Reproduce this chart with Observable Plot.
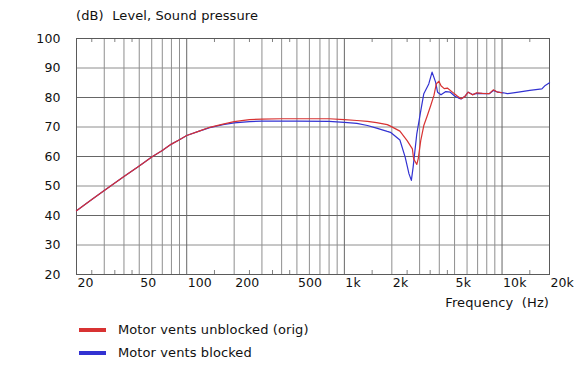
<!DOCTYPE html>
<html>
<head>
<meta charset="utf-8">
<script src="https://cdn.jsdelivr.net/npm/d3@7"></script>
<script src="https://cdn.jsdelivr.net/npm/@observablehq/plot@0.6"></script>
<style>
  html, body { margin: 0; padding: 0; background: #fff; }
  #wrap { position: relative; width: 578px; height: 390px; font-family: "DejaVu Sans", Verdana, sans-serif; font-size: 13px; letter-spacing: 0.1px; color: #111; }
  #wrap svg { position: absolute; left: 0; top: 0; }
  .lbl { position: absolute; white-space: pre; line-height: 15px; }
  .sw { position: absolute; width: 27px; height: 4px; }
</style>
</head>
<body>
<div id="wrap">
  <div class="lbl" style="left:76px; top:8px;">(dB)  Level, Sound pressure</div>
  <div class="lbl" style="right:29px; top:295px;">Frequency  (Hz)</div>
  <div class="sw" style="left:79px; top:328px; background:#d83232;"></div>
  <div class="lbl" style="left:118px; top:322px;">Motor vents unblocked (orig)</div>
  <div class="sw" style="left:79px; top:351px; background:#3232d2;"></div>
  <div class="lbl" style="left:118px; top:345px;">Motor vents blocked</div>
</div>
<script>
// Series: Motor vents unblocked (orig) — red
const freqRed = [20, 25, 30, 40, 50, 60, 70, 80, 90, 100, 120, 140, 170, 200, 250, 300, 400, 600, 800, 1000, 1200, 1400, 1600, 1870, 1960, 2250, 2500, 2700, 2750, 2880, 2940, 3050, 3190, 3360, 3530, 3700, 3830, 3980, 4100, 4300, 4500, 4800, 5200, 5500, 5800, 6100, 6500, 6900, 7500, 8300, 8800, 9400, 10000];
const dbRed   = [41.6, 45.4, 48.5, 53.2, 56.8, 59.8, 62.0, 64.2, 65.7, 67.1, 68.6, 69.9, 71.0, 71.8, 72.5, 72.7, 72.8, 72.8, 72.8, 72.5, 72.2, 71.9, 71.5, 70.8, 70.3, 68.6, 65.4, 62.6, 59.2, 57.3, 59.2, 65.4, 70.5, 73.9, 77.3, 80.7, 84.6, 85.5, 84.0, 83.0, 83.2, 82.0, 80.5, 79.6, 80.3, 81.8, 80.9, 81.6, 81.4, 81.3, 82.6, 81.8, 81.6];

// Series: Motor vents blocked — blue
const freqBlue = [20, 25, 30, 40, 50, 60, 70, 80, 90, 100, 120, 140, 170, 200, 250, 300, 500, 800, 1000, 1200, 1400, 1600, 1870, 1960, 2250, 2430, 2570, 2660, 2730, 2880, 3030, 3190, 3430, 3600, 3790, 3900, 4100, 4400, 4700, 5000, 5300, 5500, 5800, 6100, 6500, 6900, 8300, 8800, 9400, 10200, 10800, 12700, 15000, 17900, 18800, 20000];
const dbBlue   = [41.6, 45.4, 48.5, 53.2, 56.8, 59.8, 62.0, 64.2, 65.7, 67.1, 68.6, 69.8, 70.8, 71.4, 71.8, 72.0, 72.0, 71.9, 71.6, 71.2, 70.5, 69.6, 68.5, 68.2, 65.6, 59.8, 54.1, 51.9, 56.4, 67.7, 74.5, 81.3, 84.6, 88.6, 85.2, 81.8, 80.9, 82.0, 81.8, 80.5, 79.8, 79.5, 80.3, 81.8, 81.0, 81.4, 81.3, 82.4, 81.8, 81.6, 81.3, 81.8, 82.4, 82.9, 84.1, 85.0];

// Axis / grid values
const xTickValues = [20, 50, 100, 200, 500, 1000, 2000, 5000, 10000, 20000];
const xTickLabels = ["20", "50", "100", "200", "500", "1k", "2k", "5k", "10k", "20k"];
const xGridLight = [30, 40, 50, 60, 70, 80, 90, 200, 300, 400, 500, 600, 700, 800, 900, 2000, 3000, 4000, 5000, 6000, 7000, 8000, 9000];
const xGridDark = [100, 1000, 10000];
const xMinorTicks = [25, 35, 45, 150, 250, 350, 450, 1500, 2500, 3500, 4500, 15000];
const yTickValues = [20, 30, 40, 50, 60, 70, 80, 90, 100];
const yGridLight = [30, 50, 70, 90];
const yGridDark = [40, 60, 80];

const red = freqRed.map((f, i) => ({f, db: dbRed[i]}));
const blue = freqBlue.map((f, i) => ({f, db: dbBlue[i]}));

const frameH = 390 - 38 - 116; // 236
const chart = Plot.plot({
  width: 578,
  height: 390,
  marginLeft: 76,
  marginRight: 29,
  marginTop: 38,
  marginBottom: 116,
  style: {fontFamily: "DejaVu Sans, Verdana, sans-serif", fontSize: "12px", background: "transparent", overflow: "visible"},
  x: {type: "log", domain: [20, 20000], axis: null},
  y: {domain: [20, 100], axis: null},
  marks: [
    Plot.ruleX(xGridLight, {x: d => d, stroke: "#8e8e8e", strokeWidth: 1, strokeOpacity: 1}),
    Plot.ruleY(yGridLight, {y: d => d, stroke: "#8e8e8e", strokeWidth: 1, strokeOpacity: 1}),
    Plot.ruleX(xGridDark, {x: d => d, stroke: "#666", strokeWidth: 1, strokeOpacity: 1}),
    Plot.ruleY(yGridDark, {y: d => d, stroke: "#666", strokeWidth: 1, strokeOpacity: 1}),
    Plot.ruleX(xMinorTicks, {x: d => d, insetBottom: frameH - 4, stroke: "#808080", strokeOpacity: 1}),
    Plot.ruleX(xMinorTicks, {x: d => d, insetTop: frameH - 4, stroke: "#808080", strokeOpacity: 1}),
    Plot.frame({stroke: "#5a5a5a", strokeWidth: 1, strokeOpacity: 1}),
    Plot.line(blue, {x: "f", y: "db", stroke: "#3232d2", strokeWidth: 1.2}),
    Plot.line(red, {x: "f", y: "db", stroke: "#d83232", strokeWidth: 1.2}),
    Plot.text(xTickValues, {x: d => d, text: (d, i) => xTickLabels[i], frameAnchor: "bottom", textAnchor: "start", dy: 12, dx: 1, fontSize: 12.5, fill: "#111"}),
    Plot.text(yTickValues, {y: d => d, text: d => String(d), frameAnchor: "left", textAnchor: "end", dx: -16, fontSize: 12.5, fill: "#111"})
  ]
});
document.getElementById("wrap").prepend(chart);
</script>
</body>
</html>
